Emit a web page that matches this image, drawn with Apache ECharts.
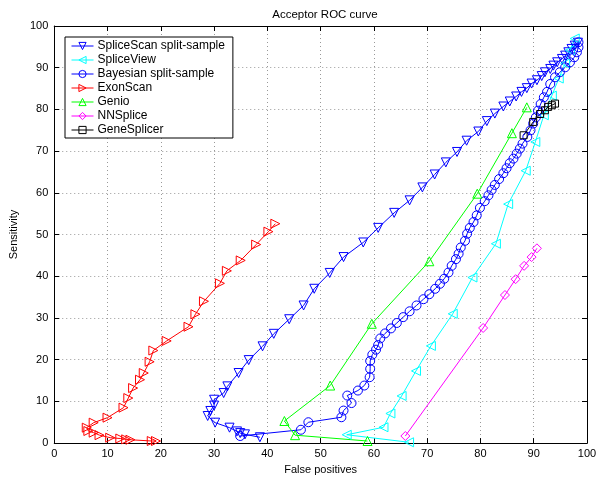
<!DOCTYPE html>
<html>
<head>
<meta charset="utf-8">
<script src="https://cdn.jsdelivr.net/npm/echarts@6/dist/echarts.min.js"></script>
<style>
  html, body { margin: 0; padding: 0; background: #fff; }
  #chart { width: 602px; height: 480px; }
</style>
</head>
<body>
<div id="chart"></div>
<script>
// tick values shared by both axes
const ticks = [0, 10, 20, 30, 40, 50, 60, 70, 80, 90, 100];

// [false positives, sensitivity]
const spliceScan = [
  [38.6, 1.4], [35.8, 2.1], [34.9, 2.4], [34.3, 2.8], [32.9, 3.7], [30.2, 4.9],
  [28.8, 6.5], [29.3, 7.7], [30.0, 9.0], [30.0, 10.4], [31.8, 12.0], [32.5, 13.6],
  [34.6, 16.8], [36.5, 19.9], [39.1, 23.2], [41.2, 26.2], [44.1, 29.7], [46.8, 33.0],
  [48.8, 37.0], [51.7, 40.8], [54.3, 44.6], [58.0, 48.1], [60.8, 51.6], [63.8, 55.2],
  [66.7, 58.2], [69.1, 61.3], [71.4, 64.4], [73.5, 67.3], [75.6, 69.8], [77.4, 72.5],
  [79.6, 74.7], [81.2, 77.2], [82.7, 79.0], [84.3, 80.7], [85.5, 81.9], [86.7, 83.1],
  [87.7, 84.2], [88.7, 85.1], [89.6, 86.2], [90.6, 87.0], [91.5, 88.0], [92.1, 88.9],
  [93.1, 89.7], [93.7, 90.5], [94.4, 91.3], [95.3, 92.1], [95.9, 92.9], [96.5, 93.7],
  [97.1, 94.5], [97.7, 95.3], [98.3, 96.0]
];
const spliceView = [
  [97.7, 97.0], [96.8, 94.2], [95.9, 91.0], [94.7, 87.4], [93.4, 83.3], [91.9, 78.6],
  [90.3, 72.2], [88.5, 65.3], [85.2, 57.3], [82.9, 47.8], [78.5, 39.7], [74.8, 31.0],
  [70.7, 23.3], [67.9, 17.3], [65.2, 11.3], [63.1, 7.1], [61.8, 3.8], [54.9, 2.0],
  [66.6, 0.2]
];
const bayesian = [
  [34.9, 1.7], [46.3, 3.2], [47.7, 5.0], [53.9, 6.2], [54.3, 7.8], [55.8, 9.6],
  [55.0, 11.4], [57.0, 12.6], [58.2, 13.8], [59.2, 15.8], [59.3, 17.8], [59.3, 19.7],
  [59.7, 21.2], [60.4, 22.4], [60.8, 23.5], [61.2, 25.1], [62.1, 26.3], [63.2, 27.5],
  [64.3, 28.8], [65.5, 30.2], [66.7, 31.6], [68.0, 33.0], [69.3, 34.5], [70.4, 35.7],
  [71.5, 37.0], [72.4, 38.2], [73.2, 39.4], [74.0, 40.9], [74.6, 42.5], [75.4, 44.1],
  [75.9, 45.4], [76.3, 46.9], [77.1, 48.5], [77.5, 50.2], [78.0, 51.6], [78.7, 53.0],
  [79.3, 54.6], [79.9, 56.4], [80.8, 58.0], [81.5, 59.4], [82.1, 60.7], [82.7, 61.9],
  [83.5, 63.3], [84.3, 64.7], [84.9, 65.9], [85.5, 67.1], [86.2, 68.2], [86.8, 69.4],
  [87.4, 70.6], [87.9, 71.8], [88.8, 73.4], [89.4, 75.0], [89.9, 76.6], [90.4, 78.1],
  [90.8, 79.7], [91.3, 81.3], [91.9, 82.9], [92.5, 84.2], [93.1, 86.1], [94.0, 87.7],
  [94.9, 88.9], [95.9, 90.1], [96.8, 91.3], [97.6, 92.5], [98.1, 93.7], [98.4, 94.9],
  [98.4, 96.1]
];
const exonScan = [
  [19.1, 0.5], [18.3, 0.5], [14.3, 0.8], [13.5, 0.9], [12.4, 1.1], [10.5, 1.3],
  [8.5, 1.9], [7.4, 2.5], [6.4, 2.9], [6.1, 3.7], [7.4, 4.9], [10.0, 6.1],
  [13.0, 8.5], [13.9, 10.8], [14.8, 13.2], [16.1, 15.2], [16.8, 16.8], [17.9, 19.5],
  [18.6, 22.2], [21.1, 24.5], [25.2, 27.9], [26.5, 30.9], [28.1, 34.0], [31.1, 38.3],
  [32.4, 41.3], [35.0, 43.8], [37.9, 47.6], [40.2, 50.7], [41.5, 52.6]
];
const genio = [
  [88.7, 80.5], [85.9, 74.3], [79.4, 59.8], [70.4, 43.6], [59.6, 28.6], [51.8, 13.8],
  [43.2, 5.3], [45.2, 1.9], [58.8, 0.5]
];
const nnSplice = [
  [90.6, 46.7], [89.6, 44.6], [88.2, 42.5], [86.6, 39.3], [84.6, 35.5], [80.5, 27.6],
  [65.9, 1.7]
];
const geneSplicer = [
  [94.0, 81.4], [93.4, 81.0], [92.7, 80.6], [92.1, 79.8], [91.2, 78.9], [89.9, 77.0],
  [88.1, 73.8]
];

const chart = echarts.init(document.getElementById('chart'), null, { renderer: 'canvas' });

const font = 'Liberation Sans, Arial, sans-serif';

function mkSeries(name, data, color, symbol, size, rotate) {
  return {
    name: name,
    type: 'line',
    data: data,
    symbol: symbol,
    symbolSize: size,
    symbolRotate: rotate || 0,
    showSymbol: true,
    animation: false,
    lineStyle: { color: color, width: 1 },
    itemStyle: { color: 'rgba(0,0,0,0)', borderColor: color, borderWidth: 1 },
    emphasis: { disabled: true }
  };
}

const axisCommon = {
  type: 'value',
  min: 0,
  max: 100,
  interval: 10,
  axisLine: { show: true, onZero: false, lineStyle: { color: '#000', width: 1 } },
  axisTick: { show: true, inside: true, length: 5, lineStyle: { color: '#000' } },
  splitLine: { show: false }
};

const option = {
  backgroundColor: '#fff',
  animation: false,
  title: {
    text: 'Acceptor ROC curve',
    left: 320, top: 4, textAlign: 'center',
    textStyle: { fontFamily: font, fontSize: 11.5, fontWeight: 'normal', color: '#000' }
  },
  grid: { left: 54, right: 15, top: 26, bottom: 33, show: false },
  legend: {
    orient: 'vertical',
    left: 65, top: 37,
    backgroundColor: '#fff',
    borderColor: '#000', borderWidth: 1, borderRadius: 0,
    padding: [2, 8, 1, 6],
    itemGap: 0,
    itemWidth: 22, itemHeight: 9,
    lineStyle: { width: 1 },
    itemStyle: { borderWidth: 1 },
    textStyle: { fontFamily: font, fontSize: 12, lineHeight: 14, color: '#000', padding: [0, 0, 0, -1] },
    data: ['SpliceScan split-sample', 'SpliceView', 'Bayesian split-sample',
      'ExonScan', 'Genio', 'NNSplice', 'GeneSplicer']
  },
  xAxis: [
    Object.assign({}, axisCommon, {
      position: 'bottom',
      name: 'False positives', nameLocation: 'middle', nameGap: 16,
      nameTextStyle: { fontFamily: font, fontSize: 11, color: '#000' },
      axisLabel: { fontFamily: font, fontSize: 11, color: '#000', margin: 5 },
      splitLine: { show: true, lineStyle: { color: '#999', type: [1, 3], width: 1 } }
    }),
    Object.assign({}, axisCommon, { position: 'top', axisLabel: { show: false } })
  ],
  yAxis: [
    Object.assign({}, axisCommon, {
      position: 'left',
      name: 'Sensitivity', nameLocation: 'middle', nameGap: 25,
      nameTextStyle: { fontFamily: font, fontSize: 11, color: '#000' },
      axisLabel: { fontFamily: font, fontSize: 11, color: '#000', margin: 6 },
      splitLine: { show: true, lineStyle: { color: '#999', type: [1, 3], width: 1 } }
    }),
    Object.assign({}, axisCommon, { position: 'right', axisLabel: { show: false } })
  ],
  series: [
    mkSeries('SpliceScan split-sample', spliceScan, '#0000ff', 'triangle', 9, 180),
    mkSeries('SpliceView', spliceView, '#00ffff', 'triangle', 9, 90),
    mkSeries('Bayesian split-sample', bayesian, '#0000ff', 'circle', 9),
    mkSeries('ExonScan', exonScan, '#ff0000', 'triangle', 9, -90),
    mkSeries('Genio', genio, '#00ff00', 'triangle', 9),
    mkSeries('NNSplice', nnSplice, '#ff00ff', 'diamond', 9),
    mkSeries('GeneSplicer', geneSplicer, '#000000', 'rect', 7)
  ]
};

chart.setOption(option);
</script>
</body>
</html>
